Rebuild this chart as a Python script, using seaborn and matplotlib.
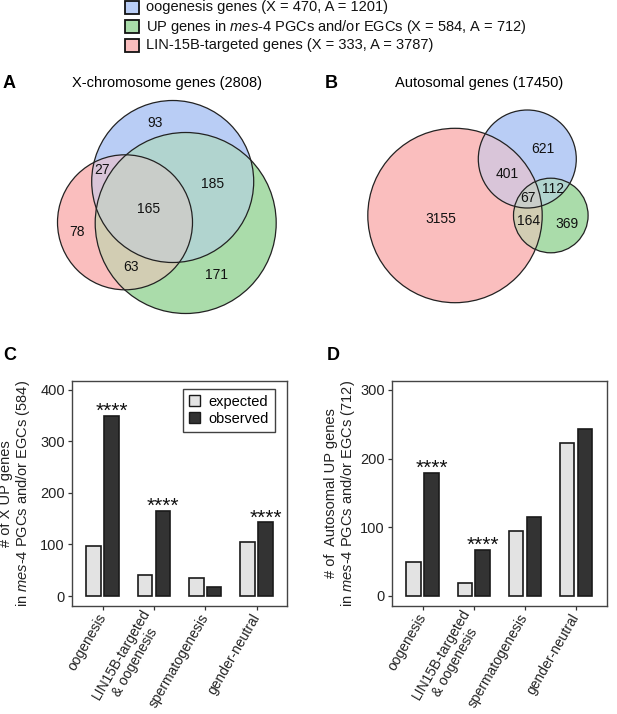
import numpy as np
import pandas as pd
import matplotlib
matplotlib.use("Agg")
import matplotlib.pyplot as plt
import seaborn as sns
from matplotlib.patches import Circle, Rectangle, Patch

# ---------------- data ----------------
set_names = ["oogenesis genes",
             r"UP genes in $\it{mes}$-$\it{4}$ PGCs and/or EGCs",
             "LIN-15B-targeted genes"]
set_keys = ["O", "U", "L"]
set_x_sizes = [470, 584, 333]
set_a_sizes = [1201, 712, 3787]

venn_x_title = "X-chromosome genes (2808)"
venn_a_title = "Autosomal genes (17450)"
venn_regions = ["O", "OU", "OUL", "OL", "L", "UL", "U"]
venn_x_counts = [93, 185, 165, 27, 78, 63, 171]
venn_a_counts = [621, 112, 67, 401, 3155, 164, 369]

categories = ["oogenesis", "LIN15B-targeted\n& oogenesis", "spermatogenesis", "gender-neutral"]
groups = ["expected", "observed"]
x_expected = [98, 40, 35, 105]
x_observed = [350, 165, 18, 143]
a_expected = [49, 19, 95, 223]
a_observed = [179, 67, 115, 243]
x_signif = ["****", "****", "", "****"]
a_signif = ["****", "****", "", ""]
x_ylabel = "# of X UP genes\n" + r"in $\it{mes}$-$\it{4}$ PGCs and/or EGCs (584)"
a_ylabel = "# of  Autosomal UP genes\n" + r"in $\it{mes}$-$\it{4}$ PGCs and/or EGCs (712)"

# ---------------- style ----------------
plt.rcParams["font.family"] = ["Liberation Sans", "DejaVu Sans"]
plt.rcParams["mathtext.fontset"] = "custom"
plt.rcParams["mathtext.rm"] = "Liberation Sans"
plt.rcParams["mathtext.it"] = "Liberation Sans:italic"
plt.rcParams["axes.linewidth"] = 1.0

W, H = 617, 714
fig = plt.figure(figsize=(W / 100, H / 100), dpi=100)

set_colors = {"O": np.array([185, 205, 245]) / 255,
              "U": np.array([170, 220, 170]) / 255,
              "L": np.array([250, 190, 190]) / 255}
edge_col = "#222222"

# overlay axes in pixel coordinates for the Venn panels
ov = fig.add_axes([0, 0, 1, 1])
ov.set_xlim(0, W)
ov.set_ylim(H, 0)
ov.axis("off")

# circle layout (pixels)
circ_A = {"O": (172.7, 181.5, 81.0), "U": (185.7, 223.0, 90.5), "L": (125.0, 222.3, 67.5)}
circ_B = {"O": (527.3, 159.0, 49.0), "U": (550.8, 215.5, 37.3), "L": (455.0, 215.5, 87.2)}
lab_A = {"O": (155, 123), "OU": (213, 184), "OUL": (149, 209), "OL": (101.7, 170),
         "L": (76.7, 231.7), "UL": (130.7, 266.7), "U": (216.7, 275)}
lab_B = {"O": (542.7, 149.3), "OU": (552.7, 189), "OUL": (528.3, 198.3), "OL": (506.7, 174.3),
         "L": (440.7, 219), "UL": (529, 221), "U": (566.7, 224)}

yy, xx = np.mgrid[0:H, 0:W] + 0.5
img = np.ones((H, W, 3))
for circ in (circ_A, circ_B):
    cnt = np.zeros((H, W))
    acc = np.zeros((H, W, 3))
    for k, (cx, cy, r) in circ.items():
        m = (xx - cx) ** 2 + (yy - cy) ** 2 <= r ** 2
        cnt += m
        acc += m[..., None] * set_colors[k]
    sel = cnt > 0
    img[sel] = acc[sel] / cnt[sel][:, None]
ov.imshow(img, extent=(0, W, H, 0), interpolation="nearest", zorder=0)
ov.set_aspect("auto")
ov.set_xlim(0, W)
ov.set_ylim(H, 0)

for circ in (circ_A, circ_B):
    for k, (cx, cy, r) in circ.items():
        ov.add_patch(Circle((cx, cy), r, fill=False, ec=edge_col, lw=0.9, zorder=2))

for labs, counts in ((lab_A, venn_x_counts), (lab_B, venn_a_counts)):
    for reg, c in zip(venn_regions, counts):
        x, y = labs[reg]
        ov.text(x, y, str(c), ha="center", va="center", fontsize=10, color="#111111", zorder=3)

# top legend
for i, (k, nm, xs, as_) in enumerate(zip(set_keys, set_names, set_x_sizes, set_a_sizes)):
    yc = 7.5 + i * 19.0
    ov.add_patch(Rectangle((125, yc - 6.5), 13.5, 13, fc=set_colors[k], ec="#111111", lw=1.3, zorder=3))
    ov.text(146, yc, f"{nm} (X = {xs}, A = {as_})", ha="left", va="center",
            fontsize=10.5, color="#111111")

# panel titles and letters
ov.text(167, 83, venn_x_title, ha="center", va="center", fontsize=10.5)
ov.text(479, 83, venn_a_title, ha="center", va="center", fontsize=10.5)
for letter, x, y in (("A", 3, 84), ("B", 325, 84), ("C", 3, 356), ("D", 327, 356)):
    ov.text(x, y, letter, ha="left", va="center", fontsize=13, fontweight="bold")

# ---------------- bar charts ----------------
palette = {"expected": "#e3e3e3", "observed": "#333333"}


def bar_panel(rect, expected, observed, signif, ylim, yticks, ylabel, label_x, show_legend):
    ax = fig.add_axes(rect)
    df = pd.DataFrame({
        "category": categories * 2,
        "group": [groups[0]] * len(categories) + [groups[1]] * len(categories),
        "count": list(expected) + list(observed),
    })
    sns.barplot(data=df, x="category", y="count", hue="group", order=categories,
                hue_order=groups, palette=palette, width=0.7, gap=0.19,
                edgecolor="#1a1a1a", linewidth=1.2, legend=False, ax=ax)
    ax.set_xlim(-0.604, 3.6)
    ax.set_ylim(*ylim)
    ax.set_yticks(yticks)
    ax.set_xticks(range(len(categories)))
    ax.set_xticklabels(categories, rotation=60, ha="right", va="center",
                       rotation_mode="anchor", multialignment="center", fontsize=10)
    ax.tick_params(axis="both", length=3, width=0.9, color="#333333", pad=2,
                   labelcolor="#222222")
    ax.tick_params(axis="x", pad=3)
    ax.tick_params(axis="y", labelsize=10.5)
    for s in ax.spines.values():
        s.set_visible(True)
        s.set_color("#444444")
        s.set_linewidth(1.0)
    ax.set_xlabel("")
    ax.set_ylabel(ylabel, fontsize=10.5, linespacing=1.05, color="#222222")
    ax.yaxis.set_label_coords(label_x, 0.5)
    obs_bars = ax.containers[1]
    for bar, s in zip(obs_bars, signif):
        if s:
            ax.annotate(s, (bar.get_x() + bar.get_width() / 2, bar.get_height()),
                        xytext=(0, -1), textcoords="offset pixels",
                        ha="center", va="baseline", fontsize=15, color="#111111")
    if show_legend:
        handles = [Patch(fc=palette[g], ec="#1a1a1a", lw=1.0, label=g) for g in groups]
        leg = ax.legend(handles=handles, loc="upper right", bbox_to_anchor=(0.943, 0.963),
                        borderaxespad=0, fontsize=10.5, frameon=True, fancybox=False,
                        handlelength=0.75, handleheight=0.75, handletextpad=0.6,
                        labelspacing=0.2, borderpad=0.4)
        leg.get_frame().set_edgecolor("#111111")
        leg.get_frame().set_linewidth(1.0)
    return ax


bar_panel([71.7 / W, 108 / H, 215.6 / W, 225.3 / H], x_expected, x_observed, x_signif,
          (-19.4, 418), [0, 100, 200, 300, 400], x_ylabel, -0.184, True)
bar_panel([391.7 / W, 108 / H, 215.0 / W, 225.3 / H], a_expected, a_observed, a_signif,
          (-14.6, 313.4), [0, 100, 200, 300], a_ylabel, -0.161, False)

fig.savefig("out.png", dpi=100)
